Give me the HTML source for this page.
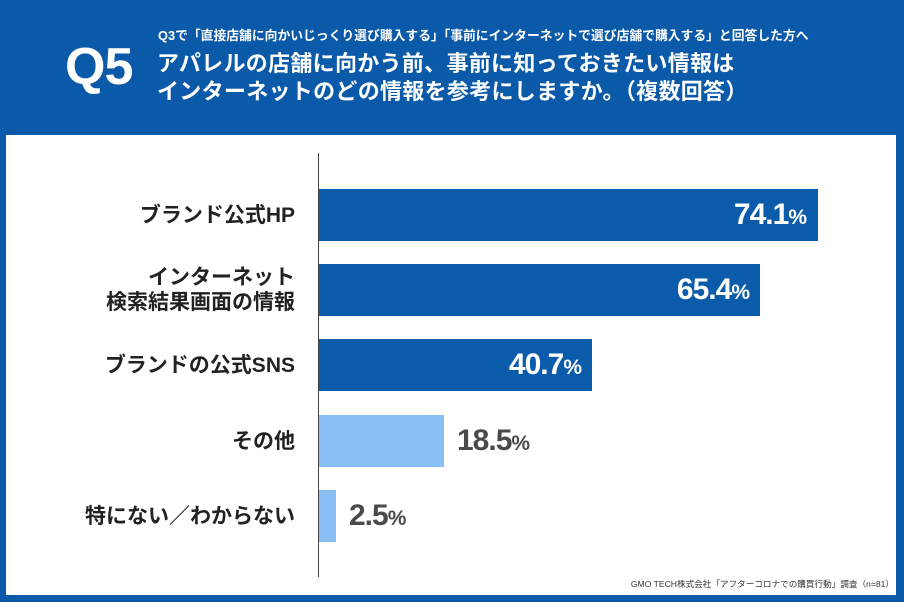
<!DOCTYPE html>
<html><head><meta charset="utf-8">
<style>
*{margin:0;padding:0;box-sizing:border-box}
html,body{width:904px;height:602px;overflow:hidden}
body{background:#0B5AA9;position:relative;font-family:"Liberation Sans","Noto Sans CJK JP",sans-serif}
.abs{position:absolute;white-space:nowrap}
#q5{left:65px;top:41px;font-size:52px;line-height:52px;font-weight:bold;color:#fff;font-family:"Liberation Sans",sans-serif;letter-spacing:-1px}
#sub{left:158px;top:28px;font-size:12.8px;line-height:16px;color:#fff;font-weight:bold}
#title{left:157px;top:50px;font-size:22px;line-height:28px;color:#fff;font-weight:bold;letter-spacing:0.3px}
#panel{left:6px;top:135px;width:890px;height:460px;background:#fff}
#axis{left:318px;top:153px;width:1px;height:424px;background:#444}
.bar{position:absolute;left:319px;height:52px}
.dark{background:#0B5BAB}
.light{background:#88C0F5}
.lab{position:absolute;right:609px;font-size:21px;font-weight:bold;color:#222;text-align:right;line-height:25px;white-space:nowrap}
.val{position:absolute;font-family:"Liberation Sans",sans-serif;font-weight:bold;font-size:30px;line-height:52px;letter-spacing:-1px;white-space:nowrap}
.val span{font-size:21px;letter-spacing:0}
.in{color:#fff;text-align:right}
.out{color:#4a4a4a}
#foot{right:10px;top:578px;font-size:8.6px;line-height:13px;color:#333}
</style></head><body>
<div class="abs" id="q5">Q5</div>
<div class="abs" id="sub">Q3で「直接店舗に向かいじっくり選び購入する」「事前にインターネットで選び店舗で購入する」と回答した方へ</div>
<div class="abs" id="title">アパレルの店舗に向かう前、事前に知っておきたい情報は<br>インターネットのどの情報を参考にしますか。（複数回答）</div>
<div class="abs" id="panel"></div>

<div class="bar dark" style="top:189px;width:499px"></div>
<div class="bar dark" style="top:264px;width:441px"></div>
<div class="bar dark" style="top:339px;width:273px"></div>
<div class="bar light" style="top:415px;width:125px"></div>
<div class="bar light" style="top:490px;width:17px"></div>
<div class="abs" id="axis"></div>

<div class="lab" style="top:203px">ブランド公式HP</div>
<div class="lab" style="top:265px">インターネット<br>検索結果画面の情報</div>
<div class="lab" style="top:353px">ブランドの公式SNS</div>
<div class="lab" style="top:429px">その他</div>
<div class="lab" style="top:504px">特にない／わからない</div>

<div class="val in" style="top:189px;right:97px">74.1<span>%</span></div>
<div class="val in" style="top:264px;right:154px">65.4<span>%</span></div>
<div class="val in" style="top:339px;right:322px">40.7<span>%</span></div>
<div class="val out" style="top:415px;left:457px">18.5<span>%</span></div>
<div class="val out" style="top:490px;left:349px">2.5<span>%</span></div>

<div class="abs" id="foot">GMO TECH株式会社「アフターコロナでの購買行動」調査（n=81）</div>
</body></html>
